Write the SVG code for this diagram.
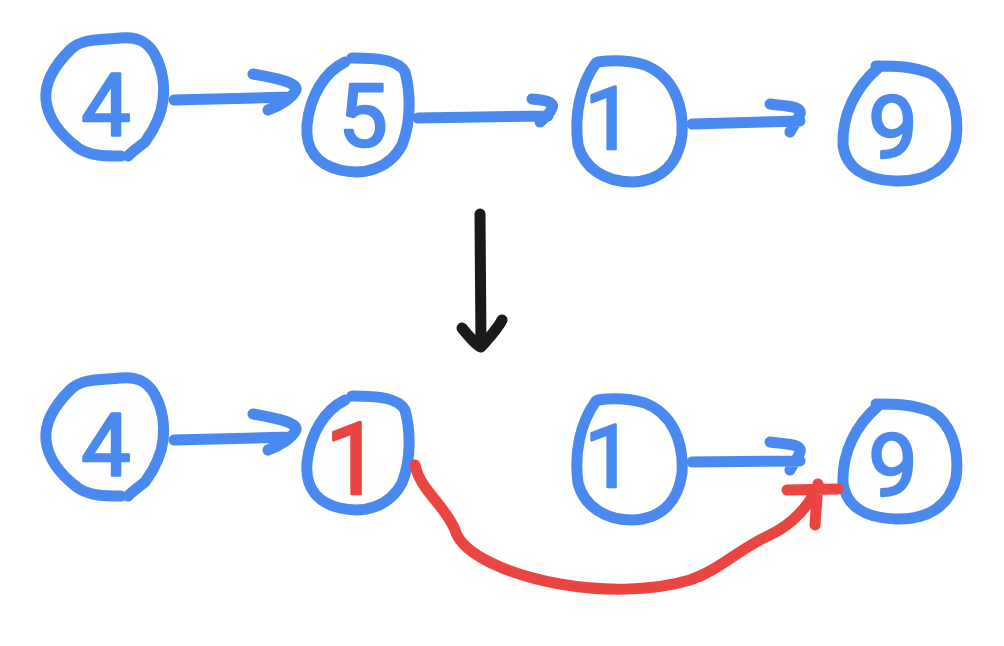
<svg xmlns="http://www.w3.org/2000/svg" width="1004" height="646" viewBox="0 0 1004 646">
<style>
.s{fill:none;stroke-width:11;stroke-linecap:round;stroke-linejoin:round}
.b{stroke:#4a8af0}
.r{stroke:#ea4540}
.k{stroke:#1a1a1a}
.t{font-family:Roboto,"Open Sans",sans-serif;font-weight:400;font-size:88px;stroke-width:2.5;stroke-linejoin:round;text-anchor:middle}
.tb{fill:#4a8af0;stroke:#4a8af0}
.tr{fill:#ea4540;stroke:#ea4540}
</style>
<defs>
<path id="c4" d="M121,156 C105,156 90,156 78,148 C62,136 48,120 46,100 C44,80 58,62 70,50 C82,38 100,40 120,38 C138,36 148,42 155,55 C162,68 165,85 163,100 C161,120 150,135 145,142 M128,156 C134,150 140,146 145,142"/>
<path id="c5" d="M345,62 C325,72 310,95 307,125 C305,150 318,165 340,170 C365,176 390,168 402,145 C412,120 410,90 405,72 C398,60 380,58 352,58"/>
<path id="c1" d="M596,63 C580,85 574,115 578,145 C584,168 605,182 632,182 C660,181 678,165 682,135 C684,100 670,75 645,65 C628,60 612,60 598,62"/>
<path id="c9" d="M878,68 C855,88 842,115 843,145 C846,168 865,180 895,181 C928,182 950,168 956,140 C960,110 950,85 932,74 C912,66 895,66 876,66"/>
</defs>
<g id="n4a"><use href="#c4" class="s b"/><text class="t tb" x="106" y="135">4</text></g>
<g id="n5"><use href="#c5" class="s b"/><text class="t tb" x="363" y="146">5</text></g>
<g id="n1a"><use href="#c1" class="s b"/><text class="t tb" x="609" y="149">1</text></g>
<g id="n9a"><use href="#c9" class="s b"/><text class="t tb" x="893" y="158">9</text></g>
<g id="n4b"><use href="#c4" class="s b" transform="translate(0,340)"/><text class="t tb" x="106" y="475">4</text></g>
<g id="n1r"><use href="#c5" class="s b" transform="translate(0,338)"/><text class="t tr" x="353" y="494" style="font-size:100px">1</text></g>
<g id="n1b"><use href="#c1" class="s b" transform="translate(0,338)"/><text class="t tb" x="609" y="487">1</text></g>
<g id="n9b"><use href="#c9" class="s b" transform="translate(0,338)"/><text class="t tb" x="893" y="496">9</text></g>
<g id="connectors">
<path class="s b" d="M174,100 L290,97 M253,74 C275,78 298,82 296,90 C292,98 280,106 268,110"/>
<path class="s b" d="M418,118 L548,116 M532,99 C545,100 555,102 552,108 C550,114 545,118 540,122"/>
<path class="s b" d="M692,124 L800,121 M770,104 C785,106 803,106 800,114 C798,120 792,128 790,132"/>
<path class="s k" d="M480,214 L481,346 M462,328 C470,338 478,346 481,347 C487,340 497,330 502,320"/>
<path class="s b" d="M174,440 L290,437 M253,414 C275,418 298,422 296,430 C292,438 280,446 268,450"/>
<path class="s b" d="M692,462 L800,461 M770,442 C785,444 803,444 800,452 C798,458 792,466 790,470"/>
<path class="s r" d="M415,465 C420,490 445,505 455,530 C462,555 510,575 560,584 C600,591 650,592 690,580 C720,570 740,548 770,535 C795,523 808,505 818,488 M787,490 L838,489 M818,484 L815,525"/>
</g>
</svg>
